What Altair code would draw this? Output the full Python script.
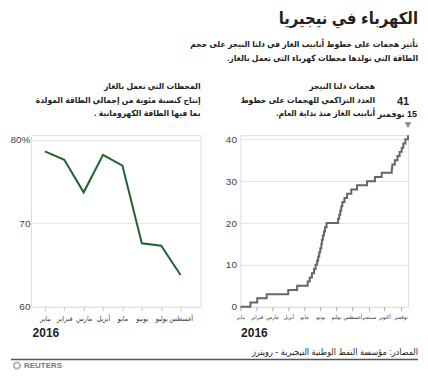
import altair as alt
import pandas as pd

FONT = "Liberation Sans, DejaVu Sans Condensed, DejaVu Sans, sans-serif"
RLM = "\u200f"

# ---------------- data ----------------
month_names = ["يناير", "فبراير", "مارس", "أبريل", "مايو", "يونيو",
               "يوليو", "أغسطس", "سبتمبر", "أكتوبر", "نوفمبر", "ديسمبر"]

gas_months = [1, 2, 3, 4, 5, 6, 7, 8]
gas_share = [78.6, 77.6, 73.7, 78.2, 76.9, 67.6, 67.3, 63.8]

attack_dates = ["2016-01-01", "2016-01-20", "2016-02-02", "2016-02-20", "2016-04-01",
                "2016-04-18", "2016-05-08", "2016-05-12", "2016-05-16", "2016-05-20",
                "2016-05-23", "2016-05-26", "2016-05-28", "2016-05-30", "2016-06-01",
                "2016-06-03", "2016-06-04", "2016-06-06", "2016-06-08", "2016-06-10",
                "2016-06-13", "2016-07-05", "2016-07-07", "2016-07-09", "2016-07-11",
                "2016-07-13", "2016-07-17", "2016-07-22", "2016-07-30", "2016-08-10",
                "2016-08-29", "2016-09-13", "2016-09-26", "2016-10-15", "2016-10-16",
                "2016-10-21", "2016-10-26", "2016-10-30", "2016-11-03", "2016-11-06",
                "2016-11-10", "2016-11-15"]
attack_counts = [0, 1, 2, 3, 4, 5, 6, 7, 8, 9,
                 10, 11, 12, 13, 14, 15, 16, 17, 18, 19,
                 20, 21, 22, 23, 24, 25, 26, 27, 28, 29,
                 30, 31, 32, 33, 34, 35, 36, 37, 38, 39,
                 40, 41]

title_text = "الكهرباء في نيجيريا"
subtitle_lines = ["تأثير هجمات على خطوط أنابيب الغاز في دلتا النيجر على حجم",
                  "الطاقة التي تولدها محطات كهرباء التي تعمل بالغاز."]
left_title_lines = ["المحطات التي تعمل بالغاز",
                    "إنتاج كنسبة مئوية من إجمالي الطاقة المولدة",
                    "بما فيها الطاقة الكهرومانية ."]
right_title_lines = ["هجمات دلتا النيجر",
                     "العدد التراكمي للهجمات على خطوط",
                     "أنابيب الغاز منذ بداية العام."]
last_date_label = "15 نوفمبر"
year_label = "2016"
source_text = "المصادر: مؤسسة النفط الوطنية النيجيرية - رويترز"
brand_text = "REUTERS"

gas_df = pd.DataFrame({"month": gas_months, "share": gas_share})
att_df = pd.DataFrame({"date": attack_dates, "count": attack_counts})
last_df = att_df.tail(1)
dummy = pd.DataFrame({"d": [0]})

names_js = "[" + ",".join("'" + m + "'" for m in month_names) + "]"


def is_ar(text):
    return any("\u0600" <= ch <= "\u06ff" for ch in text)


def label(text, x, y, size, weight="normal", align="right", color="#222",
          baseline="middle"):
    if is_ar(text):
        text = RLM + text + RLM
    return alt.Chart(dummy).mark_text(
        text=text, fontSize=size, fontWeight=weight, align=align,
        baseline=baseline, color=color, font=FONT
    ).encode(x=alt.value(x), y=alt.value(y))


# ---------------- left panel ----------------
LW, H = 170, 172
left_line = alt.Chart(gas_df).mark_line(color="#1f6332", strokeWidth=2).encode(
    x=alt.X("month:Q",
            scale=alt.Scale(domain=[0.28, 9.03], nice=False, zero=False),
            axis=alt.Axis(values=gas_months, labelExpr=names_js + "[datum.value - 1]",
                          grid=False, domain=False, ticks=True, tickSize=4,
                          tickColor="#c8c8c8", labelFontSize=7, labelPadding=4,
                          labelColor="#333", labelFont=FONT, title=None,
                          labelOverlap=False, labelFlush=False)),
    y=alt.Y("share:Q",
            scale=alt.Scale(domain=[60, 80.55], nice=False, zero=False),
            axis=alt.Axis(values=[60, 70, 80],
                          labelExpr="datum.value == 80 ? '80%' : datum.label",
                          grid=True, gridColor="#e3e3e3", domain=False, ticks=False,
                          labelPadding=1, labelFontSize=10, labelColor="#444",
                          labelFont=FONT, title=None, minExtent=20, maxExtent=20)),
)

left_layers = [left_line]
for i, line in enumerate(left_title_lines):
    left_layers.append(label(line, 170, -49 + i * 13.5, 8.5, "bold"))
left_layers.append(label(year_label, 15, 198, 12, "bold", align="center"))
left_layers.append(
    alt.Chart(dummy).mark_rule(color="#555", strokeWidth=1.5).encode(
        x=alt.value(-20), x2=alt.value(388), y=alt.value(225)))
left_layers.append(
    alt.Chart(dummy).mark_point(shape="circle", filled=False, size=40,
                                strokeWidth=2, color="#999").encode(
        x=alt.value(-14), y=alt.value(231)))
left_layers.append(label(brand_text, -7, 231, 8, "bold", align="left", color="#777"))

left = alt.layer(*left_layers).properties(width=LW, height=H)

# ---------------- right panel ----------------
RW = 168
xr = alt.X("date:T",
           scale=alt.Scale(domain=[alt.DateTime(year=2016, month=1, date=1),
                                   alt.DateTime(year=2016, month=11, date=15)]),
           axis=alt.Axis(tickCount={"interval": "month", "step": 1},
                         labelExpr=names_js + "[month(datum.value)]",
                         grid=False, domain=False, ticks=True, tickSize=4,
                         tickColor="#a8a8d8", labelFontSize=5.5, labelPadding=4,
                         labelColor="#333", labelFont=FONT, title=None,
                         labelOverlap=False, labelFlush=False))
yr = alt.Y("count:Q",
           scale=alt.Scale(domain=[0, 41], nice=False),
           axis=alt.Axis(values=[0, 10, 20, 30, 40], grid=True, gridColor="#e3e3e3",
                         domain=False, ticks=False, labelPadding=4, labelFontSize=10,
                         labelColor="#444", labelFont=FONT, title=None,
                         minExtent=16, maxExtent=16))

right_line = alt.Chart(att_df).mark_line(
    color="#666", strokeWidth=2, interpolate="step-after").encode(x=xr, y=yr)

tri = alt.Chart(last_df).mark_point(shape="triangle-down", filled=True, size=45,
                                    color="#888", opacity=1, yOffset=-10).encode(
    x="date:T", y="count:Q")
last_num = alt.Chart(last_df).mark_text(fontSize=11, fontWeight="bold", dx=-5, dy=-33,
                                        color="#222", font=FONT).encode(
    x="date:T", y="count:Q", text=alt.Text("count:Q"))
last_date = alt.Chart(last_df).mark_text(text=RLM + last_date_label + RLM, fontSize=9,
                                         fontWeight="bold", align="right", dx=9, dy=-21,
                                         color="#222", font=FONT).encode(
    x="date:T", y="count:Q")

right_layers = [right_line, tri, last_num, last_date]
right_layers.append(label(title_text, 178, -116, 16.5, "bold"))
for i, line in enumerate(subtitle_lines):
    right_layers.append(label(line, 178, -91 + i * 14, 8.5, "bold"))
for i, line in enumerate(right_title_lines):
    right_layers.append(label(line, 135, -49 + i * 13.5, 8.5, "bold"))
right_layers.append(label(year_label, 14, 198, 12, "bold", align="center"))
right_layers.append(label(source_text, 178, 217, 9))

right = alt.layer(*right_layers).properties(width=RW, height=H)

chart = alt.hconcat(left, right, spacing=40, bounds="flush").properties(
    padding={"left": 1, "top": 2, "right": 0, "bottom": 0}
).configure_view(stroke=None).configure(font=FONT)

chart.save("out.html", embed_options={"renderer": "svg", "actions": False})
